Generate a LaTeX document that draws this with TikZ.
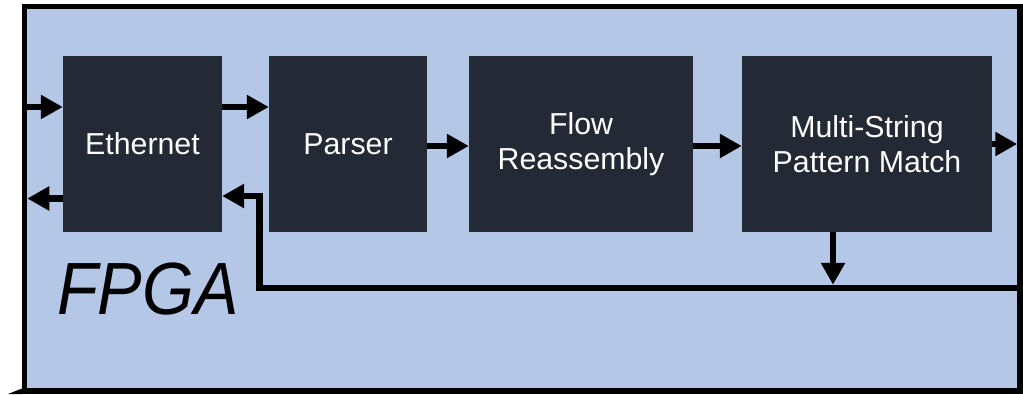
\documentclass[tikz,border=0pt]{standalone}
\usepackage{fontspec}
\setmainfont{Liberation Sans}
\usetikzlibrary{arrows.meta,calc}
\definecolor{fpgafill}{HTML}{B4C7E7}
\definecolor{blockfill}{HTML}{232A36}
\begin{document}
\begin{tikzpicture}[x=1pt,y=-1pt,
  stage/.style={fill=blockfill, text=white, align=center, inner sep=0pt,
    minimum height=176pt, font=\fontsize{30.3}{35.5}\selectfont},
  bus/.style={line width=6.5pt, line join=miter},
  flow/.style={bus, -{Triangle[width=23pt,length=22pt]}},
]
\useasboundingbox[fill=white] (0,0) rectangle (1023,394);

% FPGA board outline
\node[draw, line width=5.5pt, fill=fpgafill, outer sep=0pt, inner sep=0pt,
      minimum width=995.5pt, minimum height=384.5pt] (fpga) at (522.25,198.75) {};
\fill (8,394) -- (22,388.5) -- (22,394) -- cycle;

% processing stages
\node[stage, minimum width=159pt] (eth) at (142.5,144) {Ethernet};
\node[stage, minimum width=158pt] (par) at (348,144) {Parser};
\node[stage, minimum width=224pt] (flw) at (581,144) {Flow\\Reassembly};
\node[stage, minimum width=250pt] (msp) at (867,144) {Multi-String\\Pattern Match};

\node[anchor=base west, inner sep=0pt, font=\fontsize{74}{80}\selectfont\itshape]
  (lbl) at (57,314) {\scalebox{0.9}[1]{FPGA}};

% routing rows and columns
\coordinate (rowIn) at (0,107);
\coordinate (rowBack) at (0,198.5);
\coordinate (rowMid) at (0,146);
\coordinate (rowOut) at (0,144);
\coordinate (loopY) at (0,288);
\coordinate (loopX) at (259.5,196);
\coordinate (tapX) at (833,0);

% data path
\draw[flow] (fpga.west |- rowIn) -- (eth.west |- rowIn);
\draw[flow, shorten >=2.75pt] (eth.west |- rowBack) -- (fpga.west |- rowBack);
\draw[flow] (eth.east |- rowIn) -- (par.west |- rowIn);
\draw[flow] (par.east |- rowMid) -- (flw.west |- rowMid);
\draw[flow] (flw.east |- rowMid) -- (msp.west |- rowMid);
\draw[flow, shorten >=2.75pt] (msp.east |- rowOut) -- (fpga.east |- rowOut);

% feedback loop
\draw[flow] (fpga.east |- loopY) -- (loopX |- loopY) -- (loopX) -- (eth.east |- loopX);
\draw[flow, shorten >=3.25pt] (msp.south -| tapX) -- (tapX |- loopY);
\end{tikzpicture}
\end{document}
